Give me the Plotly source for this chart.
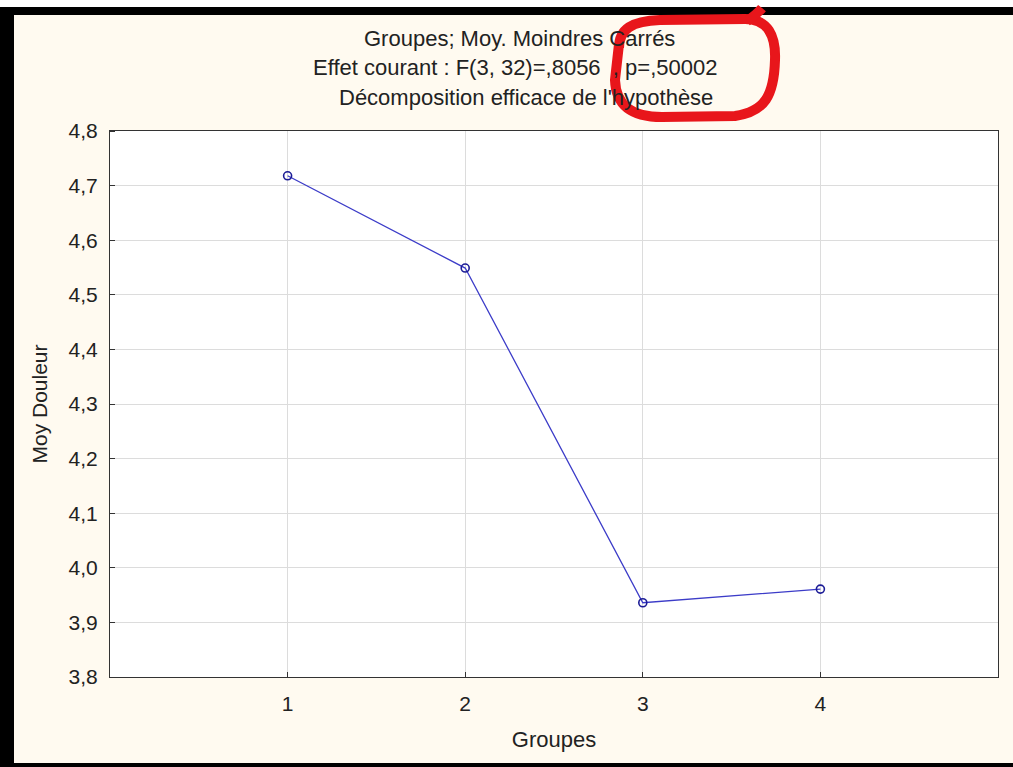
import plotly.graph_objects as go

groups = [1, 2, 3, 4]
moy_douleur = [4.718, 4.549, 3.936, 3.961]
x_ticks = [1, 2, 3, 4]
y_ticks = [3.8, 3.9, 4.0, 4.1, 4.2, 4.3, 4.4, 4.5, 4.6, 4.7, 4.8]
title_lines = [
    "Groupes; Moy. Moindres Carrés",
    "Effet courant : F(3, 32)=,8056\u2007, p=,50002",
    "Décomposition efficace de l'hypothèse",
]

W, H = 1013, 767
L, R, T, B = 110, 15, 131, 90
PW, PH = W - L - R, H - T - B


def px(x):
    return (x - L) / PW


def py(y):
    return (H - B - y) / PH


FONT = "Liberation Sans, Arial, DejaVu Sans, sans-serif"
TXT = "#222222"
BG = "#fffaf0"

fig = go.Figure()
fig.add_trace(go.Scatter(
    x=groups, y=moy_douleur, mode="lines+markers",
    line=dict(color="#3c3cc8", width=1.3),
    marker=dict(symbol="circle-open", size=8, color="#1c1c96", line=dict(width=1.6, color="#1c1c96")),
    showlegend=False, hoverinfo="x+y",
))

shapes = []
# black frame bands
shapes.append(dict(type="rect", xref="paper", yref="paper", x0=px(0), x1=px(W), y0=py(0), y1=py(7),
                   fillcolor="white", line=dict(width=0), layer="above"))
shapes.append(dict(type="rect", xref="paper", yref="paper", x0=px(6), x1=px(W), y0=py(7), y1=py(15),
                   fillcolor="black", line=dict(width=0), layer="above"))
shapes.append(dict(type="rect", xref="paper", yref="paper", x0=px(0), x1=px(14), y0=py(7), y1=py(H),
                   fillcolor="black", line=dict(width=0), layer="above"))
shapes.append(dict(type="rect", xref="paper", yref="paper", x0=px(0), x1=px(W), y0=py(763), y1=py(H),
                   fillcolor="black", line=dict(width=0), layer="above"))


def path_from(cmds):
    out = []
    for c in cmds:
        op, pts = c[0], c[1:]
        out.append(op + " " + " ".join(f"{px(a):.5f},{py(b):.5f}" for a, b in pts))
    return " ".join(out)


loop = [
    ("M", (619, 48)),
    ("C", (619, 29), (632, 21), (660, 20)),
    ("L", (745, 19)),
    ("C", (768, 19), (776, 36), (775, 60)),
    ("C", (774, 95), (765, 112), (735, 116)),
    ("L", (662, 117)),
    ("C", (632, 117), (616, 106), (615, 80)),
    ("L", (619, 44)),
]
spike = [("M", (747, 21)), ("C", (753, 17), (758, 13), (762, 8))]

annotations = []
centers = [(519, 39), (515, 68), (526, 97)]
for txt, (cx, cy) in zip(title_lines, centers):
    annotations.append(dict(text=txt, x=px(cx), y=py(cy), xref="paper", yref="paper",
                            xanchor="center", yanchor="middle", showarrow=False,
                            font=dict(family=FONT, size=22, color=TXT)))

for p in (loop, spike):
    shapes.append(dict(type="path", xref="paper", yref="paper", path=path_from(p),
                       line=dict(color="#e8161b", width=10), layer="above"))

fig.update_layout(
    width=W, height=H, margin=dict(l=L, r=R, t=T, b=B),
    paper_bgcolor=BG, plot_bgcolor="white",
    separators=",.",
    font=dict(family=FONT, size=21, color=TXT),
    shapes=shapes, annotations=annotations,
)
fig.update_xaxes(
    range=[0, 5], tickvals=x_ticks, ticks="outside", ticklen=8, tickcolor="rgba(0,0,0,0)",
    minor=dict(tickvals=x_ticks, ticks="inside", ticklen=5, tickcolor="#333", showgrid=False),
    showline=True, linecolor="#333", linewidth=1, mirror=True,
    showgrid=True, gridcolor="#dcdcdc", gridwidth=1, zeroline=False,
    title=dict(text="Groupes", standoff=17, font=dict(size=22)),
    tickfont=dict(size=21),
)
fig.update_yaxes(
    range=[3.8, 4.8], tickvals=y_ticks, tickformat=".1f", ticks="outside", ticklen=7,
    tickcolor="rgba(0,0,0,0)",
    minor=dict(tickvals=y_ticks, ticks="inside", ticklen=5, tickcolor="#333", showgrid=False),
    showline=True, linecolor="#333", linewidth=1, mirror=True,
    showgrid=True, gridcolor="#dcdcdc", gridwidth=1, zeroline=False,
    title=dict(text="Moy Douleur", standoff=15, font=dict(size=21)),
    tickfont=dict(size=21),
)

fig.write_html("out.html")
